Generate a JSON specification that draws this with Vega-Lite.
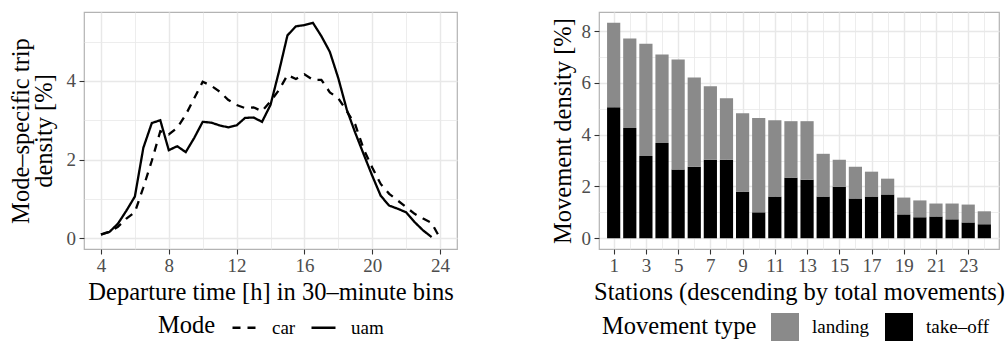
{
  "$schema": "https://vega.github.io/schema/vega-lite/v6.json",
  "padding": {"left": 7, "top": 11, "right": 0, "bottom": 0},
  "autosize": {"type": "pad"},
  "bounds": "flush",
  "spacing": 142,
  "background": "white",
  "config": {
    "font": "Liberation Serif",
    "view": {"stroke": "#b3b3b3", "strokeWidth": 1.2},
    "axis": {
      "domain": false,
      "gridColor": "#e8e8e8",
      "tickColor": "#333333",
      "tickWidth": 1.1,
      "tickSize": 5,
      "labelColor": "#4d4d4d",
      "labelFont": "Liberation Serif",
      "labelFontSize": 19,
      "labelOverlap": false,
      "labelFlush": false,
      "titleFont": "Liberation Serif",
      "titleFontSize": 24.5,
      "titleFontWeight": "normal",
      "titleColor": "black"
    },
    "legend": {
      "labelFont": "Liberation Serif",
      "labelFontSize": 19,
      "labelColor": "black",
      "titleFont": "Liberation Serif",
      "titleFontSize": 24.5,
      "titleFontWeight": "normal",
      "titleColor": "black"
    }
  },
  "datasets": {
    "trips": [
      {"hour": 4.0, "mode": "uam", "density": 0.10},
      {"hour": 4.5, "mode": "uam", "density": 0.16},
      {"hour": 5.0, "mode": "uam", "density": 0.37},
      {"hour": 5.5, "mode": "uam", "density": 0.70},
      {"hour": 6.0, "mode": "uam", "density": 1.06},
      {"hour": 6.5, "mode": "uam", "density": 2.30},
      {"hour": 7.0, "mode": "uam", "density": 2.93},
      {"hour": 7.5, "mode": "uam", "density": 3.00},
      {"hour": 8.0, "mode": "uam", "density": 2.24},
      {"hour": 8.5, "mode": "uam", "density": 2.34},
      {"hour": 9.0, "mode": "uam", "density": 2.19},
      {"hour": 9.5, "mode": "uam", "density": 2.55},
      {"hour": 10.0, "mode": "uam", "density": 2.96},
      {"hour": 10.5, "mode": "uam", "density": 2.94},
      {"hour": 11.0, "mode": "uam", "density": 2.87},
      {"hour": 11.5, "mode": "uam", "density": 2.82},
      {"hour": 12.0, "mode": "uam", "density": 2.87},
      {"hour": 12.5, "mode": "uam", "density": 3.06},
      {"hour": 13.0, "mode": "uam", "density": 3.07},
      {"hour": 13.5, "mode": "uam", "density": 2.96},
      {"hour": 14.0, "mode": "uam", "density": 3.39},
      {"hour": 14.5, "mode": "uam", "density": 4.24},
      {"hour": 15.0, "mode": "uam", "density": 5.16},
      {"hour": 15.5, "mode": "uam", "density": 5.39},
      {"hour": 16.0, "mode": "uam", "density": 5.42},
      {"hour": 16.5, "mode": "uam", "density": 5.48},
      {"hour": 17.0, "mode": "uam", "density": 5.14},
      {"hour": 17.5, "mode": "uam", "density": 4.74},
      {"hour": 18.0, "mode": "uam", "density": 4.07},
      {"hour": 18.5, "mode": "uam", "density": 3.27},
      {"hour": 19.0, "mode": "uam", "density": 2.68},
      {"hour": 19.5, "mode": "uam", "density": 2.13},
      {"hour": 20.0, "mode": "uam", "density": 1.59},
      {"hour": 20.5, "mode": "uam", "density": 1.08},
      {"hour": 21.0, "mode": "uam", "density": 0.83},
      {"hour": 21.5, "mode": "uam", "density": 0.75},
      {"hour": 22.0, "mode": "uam", "density": 0.66},
      {"hour": 22.5, "mode": "uam", "density": 0.41},
      {"hour": 23.0, "mode": "uam", "density": 0.20},
      {"hour": 23.5, "mode": "uam", "density": 0.03},
      {"hour": 4.0, "mode": "car", "density": 0.09},
      {"hour": 4.5, "mode": "car", "density": 0.16},
      {"hour": 5.0, "mode": "car", "density": 0.29},
      {"hour": 5.5, "mode": "car", "density": 0.50},
      {"hour": 6.0, "mode": "car", "density": 0.66},
      {"hour": 6.5, "mode": "car", "density": 1.29},
      {"hour": 7.0, "mode": "car", "density": 1.97},
      {"hour": 7.5, "mode": "car", "density": 2.72},
      {"hour": 8.0, "mode": "car", "density": 2.64},
      {"hour": 8.5, "mode": "car", "density": 2.81},
      {"hour": 9.0, "mode": "car", "density": 3.14},
      {"hour": 9.5, "mode": "car", "density": 3.56},
      {"hour": 10.0, "mode": "car", "density": 3.98},
      {"hour": 10.5, "mode": "car", "density": 3.88},
      {"hour": 11.0, "mode": "car", "density": 3.73},
      {"hour": 11.5, "mode": "car", "density": 3.52},
      {"hour": 12.0, "mode": "car", "density": 3.39},
      {"hour": 12.5, "mode": "car", "density": 3.31},
      {"hour": 13.0, "mode": "car", "density": 3.33},
      {"hour": 13.5, "mode": "car", "density": 3.23},
      {"hour": 14.0, "mode": "car", "density": 3.48},
      {"hour": 14.5, "mode": "car", "density": 3.77},
      {"hour": 15.0, "mode": "car", "density": 4.15},
      {"hour": 15.5, "mode": "car", "density": 4.05},
      {"hour": 16.0, "mode": "car", "density": 4.17},
      {"hour": 16.5, "mode": "car", "density": 4.03},
      {"hour": 17.0, "mode": "car", "density": 4.03},
      {"hour": 17.5, "mode": "car", "density": 3.71},
      {"hour": 18.0, "mode": "car", "density": 3.56},
      {"hour": 18.5, "mode": "car", "density": 3.23},
      {"hour": 19.0, "mode": "car", "density": 2.89},
      {"hour": 19.5, "mode": "car", "density": 2.26},
      {"hour": 20.0, "mode": "car", "density": 1.80},
      {"hour": 20.5, "mode": "car", "density": 1.38},
      {"hour": 21.0, "mode": "car", "density": 1.13},
      {"hour": 21.5, "mode": "car", "density": 0.96},
      {"hour": 22.0, "mode": "car", "density": 0.79},
      {"hour": 22.5, "mode": "car", "density": 0.62},
      {"hour": 23.0, "mode": "car", "density": 0.50},
      {"hour": 23.5, "mode": "car", "density": 0.39},
      {"hour": 24.0, "mode": "car", "density": 0.00}
    ],
    "movements": [
      {"station": 1, "type": "take–off", "value": 5.06}, {"station": 1, "type": "landing", "value": 3.26},
      {"station": 2, "type": "take–off", "value": 4.26}, {"station": 2, "type": "landing", "value": 3.45},
      {"station": 3, "type": "take–off", "value": 3.18}, {"station": 3, "type": "landing", "value": 4.33},
      {"station": 4, "type": "take–off", "value": 3.68}, {"station": 4, "type": "landing", "value": 3.41},
      {"station": 5, "type": "take–off", "value": 2.65}, {"station": 5, "type": "landing", "value": 4.25},
      {"station": 6, "type": "take–off", "value": 2.76}, {"station": 6, "type": "landing", "value": 3.45},
      {"station": 7, "type": "take–off", "value": 3.03}, {"station": 7, "type": "landing", "value": 2.84},
      {"station": 8, "type": "take–off", "value": 3.03}, {"station": 8, "type": "landing", "value": 2.38},
      {"station": 9, "type": "take–off", "value": 1.80}, {"station": 9, "type": "landing", "value": 3.03},
      {"station": 10, "type": "take–off", "value": 1.00}, {"station": 10, "type": "landing", "value": 3.64},
      {"station": 11, "type": "take–off", "value": 1.61}, {"station": 11, "type": "landing", "value": 2.95},
      {"station": 12, "type": "take–off", "value": 2.34}, {"station": 12, "type": "landing", "value": 2.18},
      {"station": 13, "type": "take–off", "value": 2.26}, {"station": 13, "type": "landing", "value": 2.26},
      {"station": 14, "type": "take–off", "value": 1.61}, {"station": 14, "type": "landing", "value": 1.65},
      {"station": 15, "type": "take–off", "value": 1.99}, {"station": 15, "type": "landing", "value": 1.04},
      {"station": 16, "type": "take–off", "value": 1.53}, {"station": 16, "type": "landing", "value": 1.23},
      {"station": 17, "type": "take–off", "value": 1.61}, {"station": 17, "type": "landing", "value": 0.96},
      {"station": 18, "type": "take–off", "value": 1.69}, {"station": 18, "type": "landing", "value": 0.61},
      {"station": 19, "type": "take–off", "value": 0.92}, {"station": 19, "type": "landing", "value": 0.65},
      {"station": 20, "type": "take–off", "value": 0.81}, {"station": 20, "type": "landing", "value": 0.65},
      {"station": 21, "type": "take–off", "value": 0.84}, {"station": 21, "type": "landing", "value": 0.50},
      {"station": 22, "type": "take–off", "value": 0.73}, {"station": 22, "type": "landing", "value": 0.61},
      {"station": 23, "type": "take–off", "value": 0.61}, {"station": 23, "type": "landing", "value": 0.69},
      {"station": 24, "type": "take–off", "value": 0.54}, {"station": 24, "type": "landing", "value": 0.50}
    ]
  },
  "hconcat": [
    {
      "width": 373,
      "height": 237,
      "data": {"name": "trips"},
      "mark": {"type": "line", "color": "black", "strokeWidth": 2.3},
      "encoding": {
        "x": {
          "field": "hour", "type": "quantitative",
          "scale": {"domain": [3, 25], "nice": false, "zero": false},
          "axis": {
            "title": "Departure time [h] in 30–minute bins",
            "values": [4, 6, 8, 10, 12, 14, 16, 18, 20, 22, 24],
            "labelExpr": "datum.value % 4 == 0 ? datum.value : ''",
            "tickOpacity": {"condition": {"test": "datum.value % 4 != 0", "value": 0}, "value": 1},
            "gridWidth": {"condition": {"test": "datum.value % 4 != 0", "value": 0.8}, "value": 1.5},
            "labelPadding": 2,
            "titleY": 50,
            "titleBaseline": "alphabetic"
          }
        },
        "y": {
          "field": "density", "type": "quantitative",
          "scale": {"domain": [-0.274, 5.754], "nice": false, "zero": false},
          "axis": {
            "title": ["Mode–specific trip", "density [%]"],
            "titleLineHeight": 23,
            "values": [0, 1, 2, 3, 4, 5],
            "labelExpr": "datum.value % 2 == 0 ? datum.value : ''",
            "tickOpacity": {"condition": {"test": "datum.value % 2 != 0", "value": 0}, "value": 1},
            "gridWidth": {"condition": {"test": "datum.value % 2 != 0", "value": 0.8}, "value": 1.5},
            "labelPadding": 3.5,
            "titleX": -56,
            "titleBaseline": "alphabetic"
          }
        },
        "strokeDash": {
          "field": "mode", "type": "nominal",
          "scale": {"domain": ["car", "uam"], "range": [[8, 7], [1, 0]]},
          "legend": {
            "title": "Mode",
            "orient": "none",
            "legendX": 74,
            "legendY": 302,
            "direction": "horizontal",
            "titleOrient": "left",
            "titlePadding": 15,
            "symbolType": "stroke",
            "symbolSize": 576,
            "symbolStrokeWidth": 2.3,
            "symbolStrokeColor": "black",
            "labelOffset": 14,
            "columnPadding": 10
          }
        }
      }
    },
    {
      "width": 400,
      "height": 237,
      "data": {"name": "movements"},
      "mark": {"type": "bar", "width": 13.2},
      "encoding": {
        "x": {
          "field": "station", "type": "quantitative",
          "scale": {"domain": [0.4, 24.6], "nice": false, "zero": false},
          "axis": {
            "title": "Stations (descending by total movements)",
            "values": [1, 2, 3, 4, 5, 6, 7, 8, 9, 10, 11, 12, 13, 14, 15, 16, 17, 18, 19, 20, 21, 22, 23, 24],
            "labelExpr": "datum.value % 2 == 1 ? datum.value : ''",
            "tickOpacity": {"condition": {"test": "datum.value % 2 == 0", "value": 0}, "value": 1},
            "gridWidth": {"condition": {"test": "datum.value % 2 == 0", "value": 0.8}, "value": 1.5},
            "labelPadding": 2,
            "titleY": 50,
            "titleBaseline": "alphabetic"
          }
        },
        "y": {
          "field": "value", "type": "quantitative",
          "stack": "zero",
          "scale": {"domain": [-0.416, 8.736], "nice": false, "zero": false},
          "axis": {
            "title": "Movement density [%]",
            "values": [0, 1, 2, 3, 4, 5, 6, 7, 8],
            "labelExpr": "datum.value % 2 == 0 ? datum.value : ''",
            "tickOpacity": {"condition": {"test": "datum.value % 2 != 0", "value": 0}, "value": 1},
            "gridWidth": {"condition": {"test": "datum.value % 2 != 0", "value": 0.8}, "value": 1.5},
            "labelPadding": 3.5,
            "titleX": -28.2,
            "titleBaseline": "alphabetic"
          }
        },
        "color": {
          "field": "type", "type": "nominal",
          "scale": {"domain": ["landing", "take–off"], "range": ["#8a8a8a", "#000000"]},
          "legend": {
            "title": "Movement type",
            "orient": "none",
            "legendX": 518,
            "legendY": 301,
            "direction": "horizontal",
            "titleOrient": "left",
            "titlePadding": 14,
            "symbolType": "square",
            "symbolSize": 784,
            "symbolStrokeWidth": 0,
            "symbolOpacity": 1,
            "labelOffset": 13,
            "columnPadding": 16
          }
        },
        "order": {"field": "type", "sort": "descending"}
      }
    }
  ]
}
